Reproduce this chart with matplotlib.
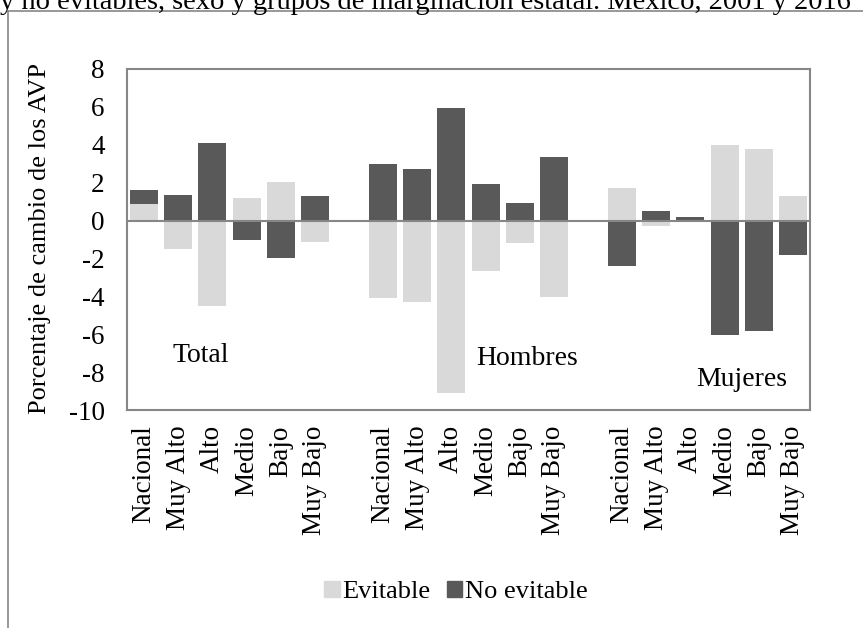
import numpy as np
import matplotlib
matplotlib.use("Agg")
import matplotlib.pyplot as plt
from matplotlib.lines import Line2D
from matplotlib.patches import Patch

plt.rcParams['font.family'] = ['Liberation Serif', 'DejaVu Serif']

groups = ["Total", "Hombres", "Mujeres"]
levels = ["Nacional", "Muy Alto", "Alto", "Medio", "Bajo", "Muy Bajo"]

evitable = {
    "Total":   [0.86, -1.50, -4.53, 1.19, 2.05, -1.13],
    "Hombres": [-4.11, -4.28, -9.11, -2.67, -1.17, -4.05],
    "Mujeres": [1.70, -0.29, -0.05, 4.01, 3.78, 1.28],
}
no_evitable = {
    "Total":   [0.74, 1.35, 4.10, -1.03, -1.97, 1.28],
    "Hombres": [3.00, 2.70, 5.92, 1.91, 0.91, 3.33],
    "Mujeres": [-2.41, 0.51, 0.21, -6.03, -5.84, -1.80],
}
yticks = [8, 6, 4, 2, 0, -2, -4, -6, -8, -10]
title_text = "y no evitables, sexo y grupos de marginación estatal. México, 2001 y 2016"

W, H = 863, 628
fig = plt.figure(figsize=(W / 100, H / 100), dpi=100)
ax = fig.add_axes([127 / W, 1 - 410 / H, (810 - 127) / W, (410 - 69) / H])

light = "#D9D9D9"
dark = "#595959"
frame = "#868686"
fs = 19.5

pos, labels, ev, ne = [], [], [], []
for g, grp in enumerate(groups):
    for i, lv in enumerate(levels):
        pos.append(g * 7 + i)
        labels.append(lv)
        ev.append(evitable[grp][i])
        ne.append(no_evitable[grp][i])
pos = np.array(pos, dtype=float)
ev = np.array(ev)
ne = np.array(ne)

width = 0.82
ax.bar(pos, ev, width, color=light, label="Evitable", zorder=2)
bottom_ne = np.where(np.sign(ne) == np.sign(ev), ev, 0.0)
ax.bar(pos, ne, width, bottom=bottom_ne, color=dark, label="No evitable", zorder=2)

ax.axhline(0, color=frame, lw=1.5, zorder=3)
ax.set_xlim(-0.5, 19.5)
ax.set_ylim(-10, 8)
ax.set_yticks(yticks)
ax.set_yticklabels([str(t) for t in yticks], fontsize=fs)
ax.set_xticks(pos)
ax.set_xticklabels(labels, rotation=90, fontsize=fs)
ax.tick_params(length=0, pad=11, axis='x')
ax.tick_params(length=0, pad=16, axis='y')
for s in ax.spines.values():
    s.set_color(frame)
    s.set_linewidth(1.5)

ax.text(0.067, 0.161, "Total", transform=ax.transAxes, fontsize=20, va='center', ha='left')
ax.text(0.511, 0.152, "Hombres", transform=ax.transAxes, fontsize=20, va='center', ha='left')
ax.text(0.833, 0.088, "Mujeres", transform=ax.transAxes, fontsize=20, va='center', ha='left')

fig.text(40 / W, 1 - 238 / H, "Porcentaje de cambio de los AVP", rotation=90,
         fontsize=19, va='center', ha='center')

fig.text(0 / W, 1 - 9 / H, title_text, fontsize=20.5, va='baseline', ha='left')

handles = [Patch(color=light), Patch(color=dark)]
fig.legend(handles, ["Evitable", "No evitable"], loc='center',
           bbox_to_anchor=(456 / W, 1 - 592 / H), ncol=2, frameon=False,
           fontsize=19, handlelength=0.6, handleheight=0.6, handletextpad=0.1,
           columnspacing=0.6)

fig.add_artist(Line2D([8 / W, 8 / W, 1.0], [0.0, 1 - 11 / H, 1 - 11 / H],
                      transform=fig.transFigure, color=frame, lw=1.2))

fig.savefig("out.png", dpi=100)
